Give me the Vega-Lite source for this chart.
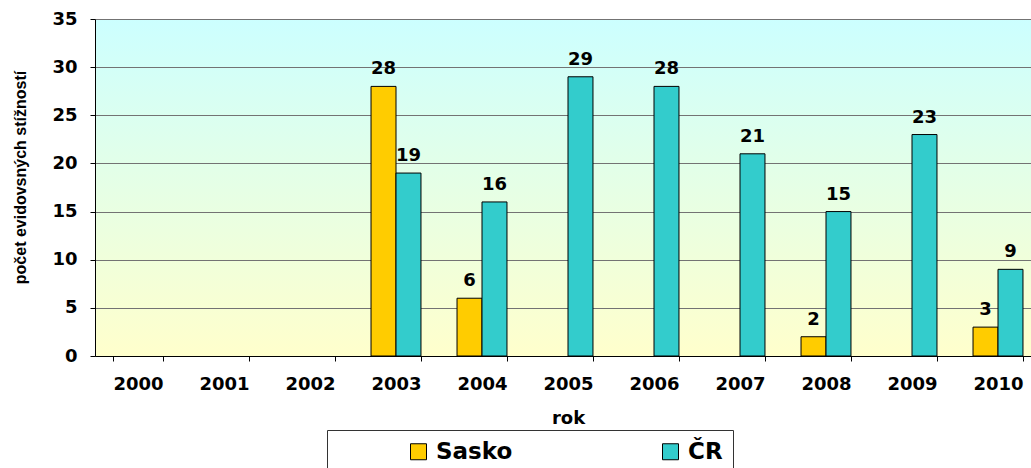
{
  "$schema": "https://vega.github.io/schema/vega-lite/v6.json",
  "autosize": {"type": "none"},
  "padding": {"left": 95, "top": 19, "right": 0, "bottom": 112},
  "width": 946,
  "height": 337,
  "background": "white",
  "config": {"font": "DejaVu Sans", "view": {"stroke": null}},
  "view": {
    "stroke": null,
    "fill": {
      "gradient": "linear", "x1": 0, "y1": 0, "x2": 0, "y2": 1,
      "stops": [{"offset": 0, "color": "#ccffff"}, {"offset": 1, "color": "#ffffcc"}]
    }
  },
  "data": {
    "values": [
      {"year": "2003", "series": "Sasko", "value": 28},
      {"year": "2003", "series": "ČR", "value": 19},
      {"year": "2004", "series": "Sasko", "value": 6},
      {"year": "2004", "series": "ČR", "value": 16},
      {"year": "2005", "series": "ČR", "value": 29},
      {"year": "2006", "series": "ČR", "value": 28},
      {"year": "2007", "series": "ČR", "value": 21},
      {"year": "2008", "series": "Sasko", "value": 2},
      {"year": "2008", "series": "ČR", "value": 15},
      {"year": "2009", "series": "ČR", "value": 23},
      {"year": "2010", "series": "Sasko", "value": 3},
      {"year": "2010", "series": "ČR", "value": 9}
    ]
  },
  "encoding": {
    "x": {
      "field": "year", "type": "nominal",
      "scale": {"domain": ["2000","2001","2002","2003","2004","2005","2006","2007","2008","2009","2010"], "paddingInner": 0.419, "paddingOuter": 0.2095},
      "axis": {
        "title": "rok", "labelAngle": 0, "grid": false, "tickBand": "extent",
        "domainColor": "black", "tickColor": "black", "tickSize": 5,
        "labelFontSize": 18, "labelFontWeight": "bold", "labelColor": "black", "labelPadding": 14,
        "titleFontSize": 18, "titleFontWeight": "bold", "titleColor": "black", "titleY": 62, "titleBaseline": "middle"
      }
    },
    "xOffset": {"field": "series", "type": "nominal", "scale": {"domain": ["Sasko", "ČR"], "paddingInner": 0, "paddingOuter": 0}},
    "y": {
      "field": "value", "type": "quantitative",
      "scale": {"domain": [0, 35], "nice": false},
      "axis": {
        "values": [0,5,10,15,20,25,30,35], "grid": true, "gridColor": "#737373", "gridWidth": 1.2,
        "domainColor": "black", "tickColor": "black", "tickSize": 5,
        "labelFontSize": 18, "labelFontWeight": "bold", "labelColor": "black", "labelPadding": 13,
        "title": "počet evidovsných stížností", "titleFont": "Liberation Sans", "titleFontSize": 16, "titleFontWeight": "bold", "titleColor": "black",
        "titleX": -75, "titleY": 158, "titleBaseline": "middle", "titleAlign": "center", "titleAngle": -90
      }
    }
  },
  "layer": [
    {
      "mark": {"type": "bar", "stroke": "black", "strokeWidth": 1},
      "encoding": {
        "color": {
          "field": "series", "type": "nominal",
          "scale": {"domain": ["Sasko", "ČR"], "range": ["#FFCC00", "#33CCCC"]},
          "legend": {
            "orient": "none", "legendX": 232, "legendY": 411, "direction": "horizontal", "columns": 2, "gridAlign": "all",
            "title": null, "labelFontSize": 23, "labelFontWeight": "bold", "labelColor": "black",
            "symbolType": "square", "symbolSize": 256, "symbolStrokeColor": "black", "symbolStrokeWidth": 1, "symbolOpacity": 1,
            "strokeColor": "#333333", "fillColor": "white", "padding": 10, "columnPadding": 76,
            "symbolOffset": 70, "labelOffset": 6
          }
        }
      }
    },
    {
      "mark": {"type": "text", "dy": -12, "fontWeight": "bold", "fontSize": 18, "baseline": "alphabetic", "color": "black"},
      "encoding": {"text": {"field": "value", "type": "quantitative"}}
    }
  ]
}
